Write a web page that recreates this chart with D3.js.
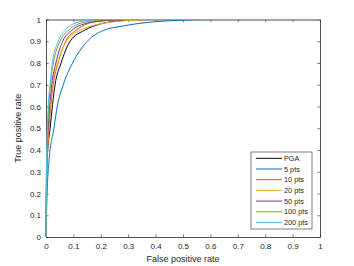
<!DOCTYPE html>
<html>
<head>
<meta charset="utf-8">
<script src="https://cdn.jsdelivr.net/npm/d3@7"></script>
<style>
  body { margin: 0; background: #fff; }
  text { font-family: "Liberation Sans", Arial, sans-serif; fill: #262626; }
</style>
</head>
<body>
<div id="chart"></div>
<script>
// ========== Data ==========
const seriesNames = ['PGA', '5 pts', '10 pts', '20 pts', '50 pts', '100 pts', '200 pts'];
const seriesColors = ['#000000', '#0072BD', '#D95319', '#EDB120', '#7E2F8E', '#77AC30', '#4DBEEE'];

// [false positive rate, true positive rate]
const rocPGA = [[0,0],[0.004,0.35],[0.015,0.5],[0.033,0.7],[0.055,0.8],[0.088,0.9],[0.14,0.95],[0.2,0.98],[0.28,0.995],[0.35,1],[1,1]];
const roc5 = [[0,0],[0.004,0.2],[0.011,0.35],[0.029,0.5],[0.041,0.6],[0.063,0.7],[0.097,0.8],[0.151,0.9],[0.21,0.95],[0.28,0.97],[0.4,0.99],[0.5,0.997],[0.6,1],[1,1]];
const roc10 = [[0,0],[0.003,0.3],[0.011,0.5],[0.026,0.7],[0.044,0.8],[0.072,0.9],[0.11,0.95],[0.15,0.98],[0.2,0.993],[0.3,1],[1,1]];
const roc20 = [[0,0],[0.003,0.3],[0.010,0.5],[0.023,0.7],[0.042,0.8],[0.075,0.9],[0.124,0.95],[0.18,0.975],[0.25,0.99],[0.35,0.998],[0.45,1],[1,1]];
const roc50 = [[0,0],[0.002,0.33],[0.009,0.52],[0.021,0.7],[0.036,0.8],[0.061,0.9],[0.094,0.95],[0.14,0.98],[0.2,0.993],[0.3,1],[1,1]];
const roc100 = [[0,0],[0.002,0.35],[0.008,0.55],[0.016,0.7],[0.027,0.8],[0.051,0.9],[0.081,0.95],[0.12,0.98],[0.18,0.995],[0.25,1],[1,1]];
const roc200 = [[0,0],[0.002,0.3],[0.008,0.6],[0.015,0.7],[0.023,0.8],[0.045,0.9],[0.069,0.95],[0.1,0.98],[0.15,0.995],[0.2,1],[1,1]];

const xTicks = [0, 0.1, 0.2, 0.3, 0.4, 0.5, 0.6, 0.7, 0.8, 0.9, 1];
const yTicks = [0, 0.1, 0.2, 0.3, 0.4, 0.5, 0.6, 0.7, 0.8, 0.9, 1];

const series = [rocPGA, roc5, roc10, roc20, roc50, roc100, roc200];

// ========== Config ==========
const width = 354, height = 266;
const margin = {left: 46, right: 34, top: 19.5, bottom: 29};
const innerW = width - margin.left - margin.right;
const innerH = height - margin.top - margin.bottom;
const tickLen = 2.7;

const svg = d3.select('#chart')
  .append('svg')
  .attr('width', width)
  .attr('height', height);

const g = svg.append('g')
  .attr('transform', `translate(${margin.left},${margin.top})`);

// ========== Scales ==========
const x = d3.scaleLinear().domain([0, 1]).range([0, innerW]);
const y = d3.scaleLinear().domain([0, 1]).range([innerH, 0]);

const fmt = d => d === 0 ? '0' : d === 1 ? '1' : d3.format('.1f')(d);

// ========== Axes ==========
const xAxis = g.append('g')
  .attr('transform', `translate(0,${innerH})`)
  .call(d3.axisBottom(x).tickValues(xTicks).tickFormat(fmt).tickSizeInner(-tickLen).tickSizeOuter(0).tickPadding(6));
const xTop = g.append('g')
  .call(d3.axisTop(x).tickValues(xTicks).tickFormat('').tickSizeInner(-tickLen).tickSizeOuter(0));
const yAxis = g.append('g')
  .call(d3.axisLeft(y).tickValues(yTicks).tickFormat(fmt).tickSizeInner(-tickLen).tickSizeOuter(0).tickPadding(5));
const yRight = g.append('g')
  .attr('transform', `translate(${innerW},0)`)
  .call(d3.axisRight(y).tickValues(yTicks).tickFormat('').tickSizeInner(-tickLen).tickSizeOuter(0));

[xAxis, xTop, yAxis, yRight].forEach(a => {
  a.select('.domain').attr('stroke', '#262626').attr('stroke-width', 0.8);
  a.selectAll('.tick line').attr('stroke', '#262626').attr('stroke-width', 0.6);
  a.selectAll('.tick text').attr('font-size', 8).style('fill', '#262626')
    .attr('font-family', '"Liberation Sans", Arial, sans-serif');
});

// ========== Curves ==========
const line = d3.line()
  .x(d => x(d[0]))
  .y(d => y(d[1]))
  .curve(d3.curveMonotoneX);

const curves = g.append('g');
series.forEach((s, i) => {
  curves.append('path')
    .attr('d', line(s))
    .attr('fill', 'none')
    .attr('stroke', seriesColors[i])
    .attr('stroke-width', 1);
});

// ========== Labels ==========
svg.append('text')
  .attr('x', margin.left + innerW / 2)
  .attr('y', 262)
  .attr('text-anchor', 'middle')
  .attr('font-size', 9)
  .text('False positive rate');

svg.append('text')
  .attr('transform', `translate(21,${margin.top + innerH / 2}) rotate(-90)`)
  .attr('text-anchor', 'middle')
  .attr('font-size', 9)
  .text('True positive rate');

// ========== Legend ==========
const legend = svg.append('g').attr('transform', 'translate(251,152)');
legend.append('rect')
  .attr('width', 61)
  .attr('height', 77)
  .attr('fill', '#fff')
  .attr('stroke', '#262626')
  .attr('stroke-width', 0.6);

seriesNames.forEach((name, i) => {
  const ry = 6.3 + i * 10.7;
  legend.append('line')
    .attr('x1', 5).attr('x2', 31)
    .attr('y1', ry).attr('y2', ry)
    .attr('stroke', seriesColors[i])
    .attr('stroke-width', 1);
  legend.append('text')
    .attr('x', 33)
    .attr('y', ry + 2.6)
    .attr('font-size', 7.3)
    .text(name);
});
</script>
</body>
</html>
